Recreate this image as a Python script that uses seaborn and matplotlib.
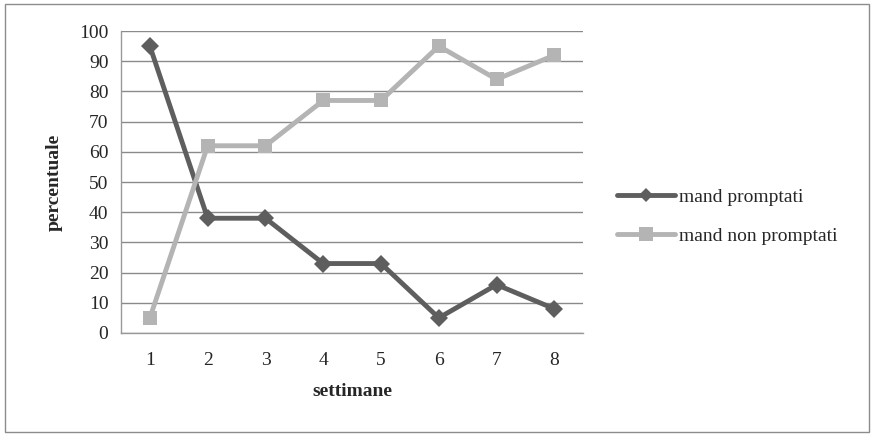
import matplotlib
matplotlib.use("Agg")
import matplotlib.pyplot as plt
import numpy as np
import pandas as pd
import seaborn as sns
from matplotlib.patches import Rectangle

settimane = [1, 2, 3, 4, 5, 6, 7, 8]
promptati = [95, 38, 38, 23, 23, 5, 16, 8]
non_promptati = [5, 62, 62, 77, 77, 95, 84, 92]
serie = ["mand promptati", "mand non promptati"]

df = pd.DataFrame({
    "settimane": settimane * 2,
    "percentuale": promptati + non_promptati,
    "serie": [serie[0]] * 8 + [serie[1]] * 8,
})

sns.set_style("white")
plt.rcParams["font.family"] = ["Liberation Serif", "DejaVu Serif"]

fig = plt.figure(figsize=(8.74, 4.37), dpi=100)
ax = fig.add_axes([0.1384, 0.238, 0.529, 0.691])

colori = {serie[0]: "#5e5e5e", serie[1]: "#b4b4b4"}
sns.lineplot(data=df, x="settimane", y="percentuale", hue="serie", style="serie",
             palette=colori, markers={serie[0]: "D", serie[1]: "s"}, dashes=False,
             linewidth=3.5, markersize=10.5, markeredgewidth=0, ax=ax, legend=False)
# diamond a bit smaller
for ln in ax.lines:
    if ln.get_marker() == "D":
        ln.set_markersize(9)

ax.set_xlim(0.5, 8.5)
ax.set_ylim(0, 100)
ax.set_yticks(range(0, 101, 10))
ax.set_xticks(settimane)
ax.set_xticks(np.arange(0.5, 9, 1), minor=True)
ax.tick_params(axis="x", which="major", length=0, pad=14, labelsize=14)
ax.tick_params(axis="x", which="minor", length=5, width=1, color="#999999", direction="out")
ax.tick_params(axis="y", length=5, width=1, color="#999999", direction="out", labelsize=14, pad=4)
ax.grid(axis="y", color="#8a8a8a", linewidth=1)
ax.set_axisbelow(True)
for s in ["top", "right"]:
    ax.spines[s].set_visible(False)
for s in ["left", "bottom"]:
    ax.spines[s].set_color("#999999")
    ax.spines[s].set_linewidth(1)

ax.set_xlabel("settimane", fontsize=14, fontweight="bold", labelpad=10)
ax.set_ylabel("percentuale", fontsize=14, fontweight="bold", labelpad=12)

handles = [
    plt.Line2D([], [], color=colori[serie[0]], lw=3.5, marker="D", markersize=7.5, markeredgewidth=0),
    plt.Line2D([], [], color=colori[serie[1]], lw=3.5, marker="s", markersize=10, markeredgewidth=0),
]
fig.legend(handles, serie, loc="center left", bbox_to_anchor=(0.686, 0.505), frameon=False,
           fontsize=14, handlelength=3.0, handletextpad=0.2, labelspacing=1.1)

fig.patches.append(Rectangle((0.006, 0.011), 0.988, 0.98, transform=fig.transFigure,
                             fill=False, edgecolor="#8c8c8c", linewidth=1))

fig.savefig("out.png", dpi=100, facecolor="white")
